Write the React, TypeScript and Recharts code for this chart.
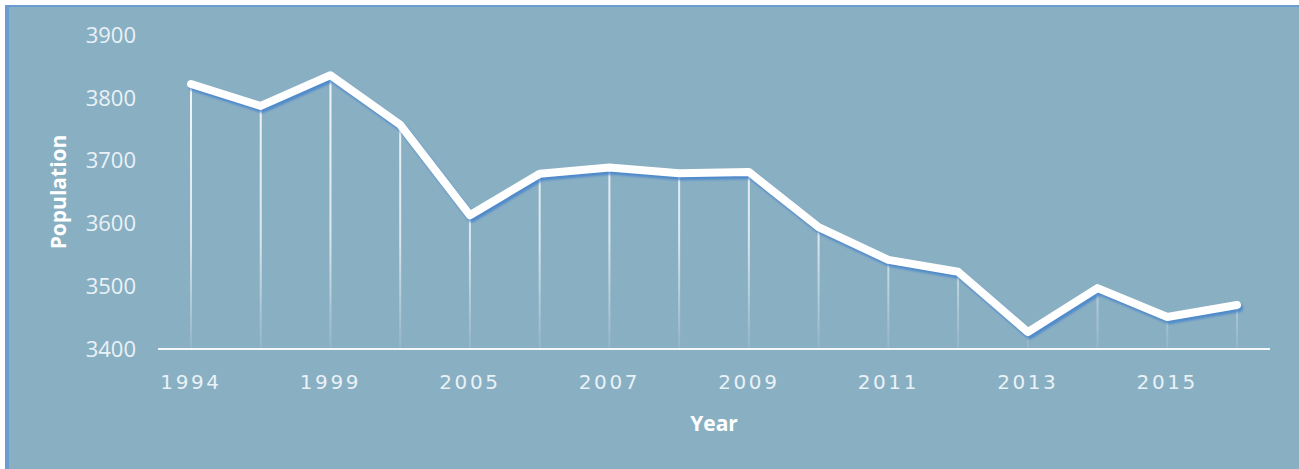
import { Line, LineChart, ReferenceLine, XAxis, YAxis } from "recharts";

const YEARS = [
  "1994", "1997", "1999", "2003", "2005", "2006", "2007", "2008",
  "2009", "2010", "2011", "2012", "2013", "2014", "2015", "2016",
];
const POPULATION = [
  3822, 3787, 3836, 3757, 3613, 3679, 3689, 3680,
  3682, 3594, 3542, 3523, 3427, 3497, 3451, 3470,
];
const Y_TICKS = [3400, 3500, 3600, 3700, 3800, 3900];

const data = YEARS.map((year, i) => ({ year, population: POPULATION[i] }));

const BG = "#89afc3";
const TEXT = "#e9f2f6";

/** Population trend: white line with fading drop lines on a steel-blue panel. */
export default function App() {
  return (
    <div style={{ position: "fixed", left: 0, top: 0, width: 1299, height: 469, background: "#fff" }}>
      <div
        style={{
          position: "absolute",
          left: 5,
          top: 5,
          width: 1294,
          height: 464,
          boxSizing: "border-box",
          background: BG,
          borderLeft: "4px solid #6b9bd0",
          borderTop: "2px solid #6b9bd0",
        }}
      />
      <div style={{ position: "absolute", left: 0, top: 0 }}>
        <LineChart
          width={1299}
          height={469}
          data={data}
          margin={{ top: 35, right: 29, bottom: 35, left: 0 }}
        >
          <defs>
            <linearGradient id="dropFade" gradientUnits="userSpaceOnUse" x1="0" y1="35" x2="0" y2="349">
              <stop offset="0%" stopColor="#ffffff" stopOpacity={0.95} />
              <stop offset="65%" stopColor="#ffffff" stopOpacity={0.7} />
              <stop offset="100%" stopColor="#ffffff" stopOpacity={0.08} />
            </linearGradient>
          </defs>
          <XAxis
            dataKey="year"
            interval={1}
            height={85}
            axisLine={{ stroke: "#f4f8fa", strokeWidth: 2 }}
            tickLine={false}
            tickSize={0}
            tickMargin={26}
            padding={{ left: 33, right: 33 }}
            tick={{ fill: TEXT, fontSize: 20, fontFamily: "DejaVu Sans", letterSpacing: 2.6 }}
            label={{
              value: "Year",
              position: "insideBottom",
              offset: 3,
              fill: "#ffffff",
              fontSize: 21,
              fontWeight: 700,
              fontFamily: "Open Sans",
            }}
          />
          <YAxis
            type="number"
            domain={[Y_TICKS[0], Y_TICKS[Y_TICKS.length - 1]]}
            ticks={Y_TICKS}
            width={158}
            axisLine={false}
            tickLine={false}
            tickSize={0}
            tickMargin={22}
            tick={{ fill: TEXT, fontSize: 22, fontFamily: "Open Sans" }}
            label={{
              content: ({ viewBox }: any) => {
                const cx = viewBox.x + 60;
                const cy = viewBox.y + viewBox.height / 2;
                return (
                  <text
                    x={cx}
                    y={cy}
                    transform={`rotate(-90 ${cx} ${cy})`}
                    textAnchor="middle"
                    dominantBaseline="middle"
                    fill="#ffffff"
                    fontSize={21}
                    fontWeight={700}
                    fontFamily="Open Sans"
                  >
                    Population
                  </text>
                );
              },
            }}
          />
          {data.map((d) => (
            <ReferenceLine
              key={d.year}
              segment={[
                { x: d.year, y: d.population },
                { x: d.year, y: Y_TICKS[0] },
              ]}
              stroke="url(#dropFade)"
              strokeWidth={2}
            />
          ))}
          <Line
            type="linear"
            dataKey="population"
            stroke="#ffffff"
            strokeWidth={8}
            strokeLinejoin="round"
            strokeLinecap="round"
            dot={false}
            activeDot={false}
            isAnimationActive={false}
            style={{ filter: "drop-shadow(2px 3px 1px rgba(60,125,205,0.75))" }}
          />
        </LineChart>
      </div>
    </div>
  );
}
